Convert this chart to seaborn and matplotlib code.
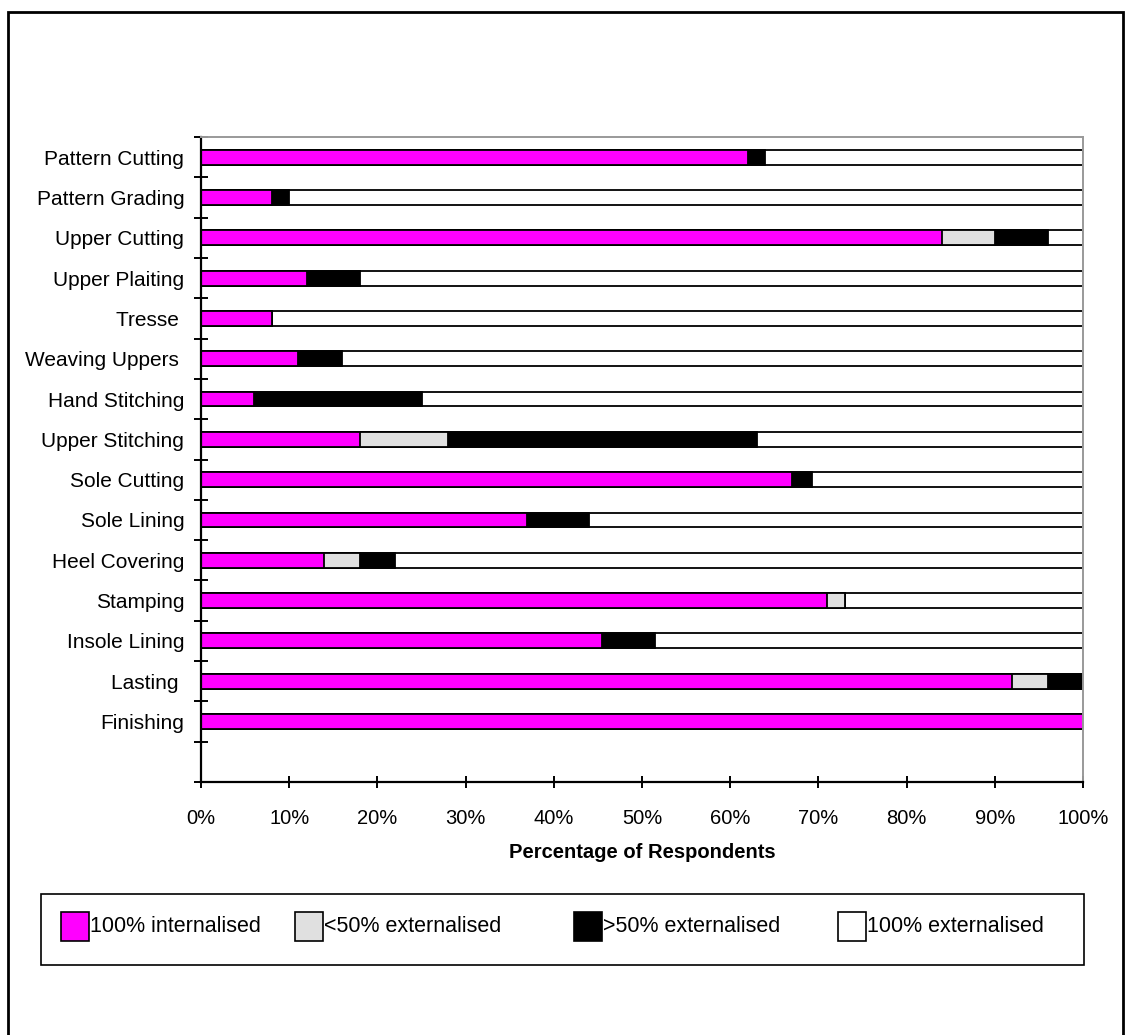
import matplotlib
matplotlib.use("Agg")
import matplotlib.pyplot as plt
from matplotlib.patches import Rectangle
import numpy as np
import pandas as pd
import seaborn as sns

# Production stages (top to bottom); a blank slot is kept below the last one
processes = ["Pattern Cutting", "Pattern Grading", "Upper Cutting", "Upper Plaiting",
             "Tresse ", "Weaving Uppers ", "Hand Stitching", "Upper Stitching",
             "Sole Cutting", "Sole Lining", "Heel Covering", "Stamping",
             "Insole Lining", "Lasting ", "Finishing"]

# Share of respondents (%) in each category
internalised_100 = [62, 8, 84, 12, 8, 11, 6, 18, 67, 37, 14, 71, 45.5, 92, 100]
external_lt50    = [0, 0, 6, 0, 0, 0, 0, 10, 0, 0, 4, 2, 0, 4, 0]
external_gt50    = [2, 2, 6, 6, 0, 5, 19, 35, 2.3, 7, 4, 0, 6, 4, 0]
external_100     = [36, 90, 4, 82, 92, 84, 75, 37, 30.7, 56, 78, 27, 48.5, 0, 0]

series_names = ["100% internalised", "<50% externalised", ">50% externalised", "100% externalised"]
series_colors = ["#FF00FF", "#E0E0E0", "#000000", "#FFFFFF"]
x_ticks = list(range(0, 101, 10))

sns.set_theme(style="white")
plt.rcParams["font.family"] = ["Liberation Sans", "DejaVu Sans"]
plt.rcParams["text.color"] = "black"
plt.rcParams["axes.labelcolor"] = "black"

df = pd.DataFrame({
    "process": processes,
    series_names[0]: internalised_100,
    series_names[1]: external_lt50,
    series_names[2]: external_gt50,
    series_names[3]: external_100,
})
# Running totals so that each segment ends where the next begins
cum = df[series_names].cumsum(axis=1)
order = processes + [""]

fig = plt.figure(figsize=(11.25, 10.35), dpi=100)
W, H = 1125, 1035
ax = fig.add_axes([201 / W, 1 - 782 / H, (1083 - 201) / W, (782 - 137) / H])

# Draw widest (cumulative) layer first, narrower layers on top
for name, color in reversed(list(zip(series_names, series_colors))):
    plot_df = pd.DataFrame({"process": df["process"], "value": cum[name]})
    sns.barplot(data=plot_df, x="value", y="process", order=order, orient="h",
                color=color, saturation=1, edgecolor="black", linewidth=1.3,
                width=0.37, errorbar=None, ax=ax)

ax.set_xlim(0, 100)
ax.set_ylim(len(order) - 0.5, -0.5)
ax.set_xticks(x_ticks)
ax.set_xticklabels([f"{v}%" for v in x_ticks], fontsize=14.5, color="black")
ax.set_yticks(range(len(processes)))
ax.set_yticklabels(processes, fontsize=15, color="black")
ax.set_yticks(np.arange(len(order) + 1) - 0.5, minor=True)
ax.tick_params(axis="y", which="major", length=0, pad=12)
ax.tick_params(axis="y", which="minor", left=True, length=10, width=1.4,
               direction="inout", color="black")
ax.tick_params(axis="x", which="major", bottom=True, length=9, width=1.4,
               direction="inout", color="black", pad=15)
ax.set_ylabel("")
ax.set_xlabel("Percentage of Respondents", fontsize=14.5, fontweight="bold",
              labelpad=11, color="black")

for side in ["left", "bottom"]:
    ax.spines[side].set_color("black")
    ax.spines[side].set_linewidth(1.6)
for side in ["top", "right"]:
    ax.spines[side].set_color("#999999")
    ax.spines[side].set_linewidth(1.4)

# Legend box drawn in figure pixel coordinates
def px(x, y):
    return x / W, 1 - y / H

lx0, ly0, lx1, ly1 = 41, 894, 1084, 965
fig.patches.append(Rectangle(px(lx0, ly1), (lx1 - lx0) / W, (ly1 - ly0) / H,
                             transform=fig.transFigure, fill=False,
                             edgecolor="black", linewidth=1.2))
patch_x = [61, 295, 574, 838]
for x0, name, color in zip(patch_x, series_names, series_colors):
    fig.patches.append(Rectangle(px(x0, 941), 28 / W, 29 / H,
                                 transform=fig.transFigure, facecolor=color,
                                 edgecolor="black", linewidth=1.2))
    fig.text(*px(x0 + 29, 927), name, fontsize=15.5, va="center", ha="left",
             color="black")

# Outer chart frame
fig.patches.append(Rectangle(px(8, 1045), (1123 - 8) / W, (1045 - 12) / H,
                             transform=fig.transFigure, fill=False,
                             edgecolor="black", linewidth=2))

fig.savefig("out.png", dpi=100)
